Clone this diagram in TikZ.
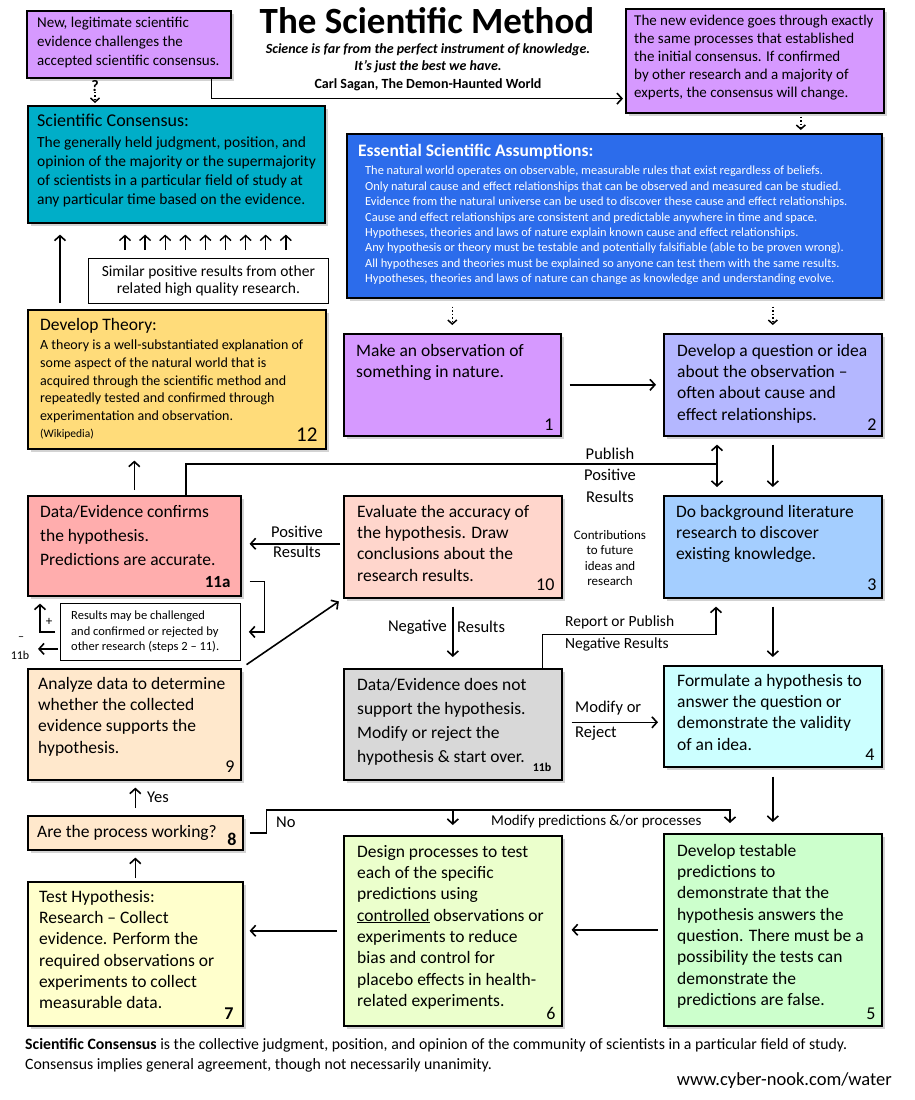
\documentclass[tikz,border=0pt]{standalone}
\usepackage{fontspec}
\setmainfont{Carlito}
\usetikzlibrary{positioning,arrows.meta,shadows}
\newcommand\setfs[2]{\fontsize{#1}{#2}\selectfont}
\definecolor{violetbox}{RGB}{214,153,255}
\definecolor{consteal}{RGB}{0,174,200}
\definecolor{assumeblue}{RGB}{44,108,235}
\definecolor{lavender}{RGB}{180,183,255}
\definecolor{litblue}{RGB}{164,206,255}
\definecolor{hypcyan}{RGB}{204,255,255}
\definecolor{predgreen}{RGB}{204,255,204}
\definecolor{designgreen}{RGB}{235,255,204}
\definecolor{testyellow}{RGB}{255,255,204}
\definecolor{peach}{RGB}{255,232,204}
\definecolor{evalpink}{RGB}{255,214,204}
\definecolor{confirmpink}{RGB}{255,173,173}
\definecolor{rejectgray}{RGB}{216,216,216}
\definecolor{theoryyellow}{RGB}{255,220,122}

\begin{document}
\begin{tikzpicture}[x=1pt,y=-1pt]
\tikzset{
  stepbox/.style={draw, line width=1.6pt, anchor=north west, inner sep=0pt,
    drop shadow={shadow xshift=3pt, shadow yshift=-3pt, opacity=.35}},
  notebox/.style={draw, line width=.8pt, anchor=north west, inner sep=0pt, fill=white},
  boxtext/.style={anchor=north west, align=left, inner sep=0pt, font=\setfs{17.5}{21.3}},
  stepnum/.style={anchor=south east, inner sep=0pt, font=\setfs{18}{20}},
  lbl/.style={inner sep=0pt, font=\setfs{16.5}{21.5}},
  link/.style={line width=1.6pt, -{Straight Barb[length=5pt,width=11pt]}},
  dotlink/.style={line width=1.5pt, dotted, -{Straight Barb[length=4pt,width=9pt]}},
}
\useasboundingbox (0,0) rectangle (915,1100);

% header
\node[anchor=base, inner sep=0pt, font=\setfs{37}{40}\bfseries] (title) at (427,33) {The Scientific Method};
\node[anchor=north, align=center, inner sep=0pt, font=\setfs{14}{17.5}\bfseries] (quote) at (428,43)
  {\textit{Science is far from the perfect instrument of knowledge.}\\
   \textit{It’s just the best we have.}\\
   Carl Sagan, The Demon-Haunted World};

\node[stepbox, fill=violetbox, minimum width=204pt, minimum height=67pt] (newev) at (26,10) {};
\node[boxtext, font=\setfs{15}{19}, below right=7pt and 11pt of newev.north west] (newevt)
  {New, legitimate scientific\\evidence challenges the\\accepted scientific consensus.};

\node[stepbox, fill=violetbox, minimum width=258pt, minimum height=104pt] (newproc) at (625,8) {};
\node[boxtext, font=\setfs{15}{18}, below right=7pt and 9pt of newproc.north west] (newproct)
  {The new evidence goes through exactly\\the same processes that established\\the initial consensus.  If confirmed\\by other research and a majority of\\experts, the consensus will change.};

% consensus and assumptions
\node[stepbox, fill=consteal, minimum width=297pt, minimum height=117pt] (consensus) at (27,105) {};
\node[boxtext, font=\setfs{18}{20}, below right=9pt and 10pt of consensus.north west] (conshead) {Scientific Consensus:};
\node[boxtext, font=\setfs{15.5}{19}, below right=32pt and 10pt of consensus.north west] (const)
  {The generally held judgment, position, and\\opinion of the majority or the supermajority\\of scientists in a particular field of study at\\any particular time  based on the evidence.};

\node[stepbox, fill=assumeblue, minimum width=535pt, minimum height=164pt] (assume) at (346,133) {};
\node[boxtext, text=white, font=\setfs{17.5}{20}\bfseries, below right=11pt and 12pt of assume.north west] (assumehead) {Essential Scientific Assumptions:};
\node[boxtext, text=white, font=\setfs{12.4}{15.4}, below right=33pt and 19pt of assume.north west] (assumet)
  {The natural world operates on observable, measurable rules that exist regardless of beliefs.\\
   Only natural cause and effect relationships that can be observed and measured can be studied.\\
   Evidence from the natural universe can be used to discover these cause and effect relationships.\\
   Cause and effect relationships are consistent and predictable anywhere in time and space.\\
   Hypotheses, theories and laws of nature explain known cause and effect relationships.\\
   Any hypothesis or theory must be testable and potentially falsifiable (able to be proven wrong).\\
   All hypotheses and theories must be explained so anyone can test them with the same results.\\
   Hypotheses, theories and laws of nature can change as knowledge and understanding evolve.};

\node[notebox, minimum width=240pt, minimum height=45pt] (similar) at (88,258) {};
\node[align=center, inner sep=0pt, font=\setfs{15.5}{17}] (similart) at (similar.center) {Similar positive results from other\\related high quality research.};

\node[stepbox, fill=theoryyellow, minimum width=298pt, minimum height=139pt] (theory) at (27,309) {};
\node[boxtext, font=\setfs{17.5}{20}, below right=9pt and 13pt of theory.north west] (theoryhead) {Develop Theory:};
\node[boxtext, font=\setfs{14}{17.6}, below right=31pt and 13pt of theory.north west] (theoryt)
  {A theory is a well-substantiated explanation of\\some aspect of the natural world that is\\acquired through the scientific method and\\repeatedly tested and confirmed through\\experimentation and observation.};
\node[boxtext, font=\setfs{11.5}{13}, below right=120pt and 13pt of theory.north west] (wiki) {(Wikipedia)};
\node[stepnum, font=\setfs{21}{22}, above left=8pt and 9pt of theory.south east] {12};

% steps
\node[stepbox, fill=violetbox, minimum width=217pt, minimum height=102pt] (obs) at (343,333) {};
\node[boxtext, below right=11pt and 13pt of obs.north west] {Make an observation of\\something in nature.};
\node[stepnum, above left=6pt and 8pt of obs.south east] {1};

\node[stepbox, fill=lavender, minimum width=218pt, minimum height=102pt] (quest) at (663,333) {};
\node[boxtext, below right=11pt and 14pt of quest.north west] {Develop a question or idea\\about the observation –\\often about cause and\\effect relationships.};
\node[stepnum, above left=6pt and 6pt of quest.south east] {2};

\node[stepbox, fill=litblue, minimum width=218pt, minimum height=102pt] (lit) at (663,495) {};
\node[boxtext, below right=10pt and 13pt of lit.north west] {Do background literature\\research to discover\\existing knowledge.};
\node[stepnum, above left=8pt and 6pt of lit.south east] {3};

\node[stepbox, fill=hypcyan, minimum width=218pt, minimum height=101pt] (hyp) at (663,665) {};
\node[boxtext, below right=9pt and 14pt of hyp.north west] {Formulate a hypothesis to\\answer the question or\\demonstrate the validity\\of an idea.};
\node[stepnum, above left=7pt and 8pt of hyp.south east] {4};

\node[stepbox, fill=predgreen, minimum width=218pt, minimum height=192pt] (pred) at (663,833) {};
\node[boxtext, below right=11pt and 14pt of pred.north west] {Develop testable\\predictions to\\demonstrate that the\\hypothesis answers the\\question.  There must be a\\possibility the tests can\\demonstrate the\\predictions are false.};
\node[stepnum, above left=7pt and 7pt of pred.south east] {5};

\node[stepbox, fill=designgreen, minimum width=218pt, minimum height=190pt] (design) at (343,835) {};
\node[boxtext, below right=10pt and 14pt of design.north west] {Design processes to test\\each of the specific\\predictions using\\\underline{controlled} observations or\\experiments to reduce\\bias and control for\\placebo effects in health-\\related experiments.};
\node[stepnum, above left=7pt and 7pt of design.south east] {6};

\node[stepbox, fill=testyellow, minimum width=215pt, minimum height=144pt] (test) at (27,881) {};
\node[boxtext, below right=9pt and 12pt of test.north west] {Test Hypothesis:\\Research – Collect\\evidence.  Perform the\\required observations or\\experiments to collect\\measurable data.};
\node[stepnum, font=\setfs{18}{20}\bfseries, above left=7pt and 10pt of test.south east] {7};

\node[stepbox, fill=peach, minimum width=215pt, minimum height=34pt] (work) at (27,815) {};
\node[boxtext, below right=10pt and 10pt of work.north west] {Are the process working?};
\node[stepnum, font=\setfs{18}{20}\bfseries, above left=5pt and 7pt of work.south east] {8};

\node[stepbox, fill=peach, minimum width=213pt, minimum height=111pt] (analyze) at (27,668) {};
\node[boxtext, below right=9pt and 11pt of analyze.north west] {Analyze data to determine\\whether the collected\\evidence supports the\\hypothesis.};
\node[stepnum, above left=8pt and 7pt of analyze.south east] {9};

\node[stepbox, fill=evalpink, minimum width=218pt, minimum height=102pt] (eval) at (343,495) {};
\node[boxtext, below right=10pt and 14pt of eval.north west] {Evaluate the accuracy of\\the hypothesis.  Draw\\conclusions about the\\research results.};
\node[stepnum, above left=8pt and 8pt of eval.south east] {10};

\node[stepbox, fill=confirmpink, minimum width=213pt, minimum height=100pt] (confirm) at (27,495) {};
\node[boxtext, font=\setfs{17.5}{24}, below right=10pt and 13pt of confirm.north west] {Data/Evidence confirms\\the hypothesis.\\Predictions are accurate.};
\node[stepnum, font=\setfs{17}{20}\bfseries, above left=9pt and 11pt of confirm.south east] {11a};

\node[stepbox, fill=rejectgray, minimum width=218pt, minimum height=111pt] (reject) at (343,668) {};
\node[boxtext, font=\setfs{17.5}{24}, below right=10pt and 14pt of reject.north west] {Data/Evidence does not\\support the hypothesis.\\Modify or reject the\\hypothesis \& start over.};
\node[stepnum, font=\setfs{12}{14}\bfseries, above left=9pt and 11pt of reject.south east] {11b};

\node[notebox, minimum width=180pt, minimum height=57pt] (results) at (60,603) {};
\node[boxtext, font=\setfs{12.5}{15.5}, below right=8pt and 11pt of results.north west] {Results may be challenged\\and confirmed or rejected by\\other research (steps 2 – 11).};

% connectors
\node[inner sep=0pt, font=\setfs{16}{18}\bfseries] (qmark) at (95,86) {?};
\draw[dotlink, shorten >=2pt] (qmark.south) -- (qmark.south |- consensus.north);
\draw[link, shorten >=2pt] ([xshift=-20pt]newev.south east) |- ([yshift=15pt]newproc.south west);
\draw[dotlink, shorten <=3pt, shorten >=3pt] ([xshift=46pt]newproc.south) -- ([xshift=46pt]newproc.south |- assume.north);
\draw[dotlink, shorten <=8pt, shorten >=8pt] (obs.north |- assume.south) -- (obs.north);
\draw[dotlink, shorten <=8pt, shorten >=8pt] (quest.north |- assume.south) -- (quest.north);

\foreach \i in {0,...,8}
  \draw[link, line width=1.4pt, shorten <=8pt, shorten >=11pt] ([xshift={37+20.1*\i}]similar.north west) -- ([xshift={37+20.1*\i}]similar.north west |- consensus.south);
\draw[link, shorten <=6pt, shorten >=11pt] ([xshift=33pt]theory.north west) -- ([xshift=33pt]theory.north west |- consensus.south);
\draw[link, shorten <=5pt, shorten >=11pt] (confirm.north) -- (confirm.north |- theory.south);

\draw[link, shorten <=8pt, shorten >=7pt] (obs.east) -- (quest.west);
\draw[link, shorten <=8pt, shorten >=8pt] (quest.south) -- (lit.north);
\draw[link, shorten <=8pt, shorten >=8pt] (lit.south) -- (hyp.north);
\draw[link, shorten <=9pt, shorten >=11pt] (hyp.south) -- (pred.north);
\draw[link, shorten <=5pt, shorten >=9pt] (pred.west) -- (pred.west -| design.east);
\draw[link, shorten <=6pt, shorten >=6pt] (design.west) -- (design.west -| test.east);
\draw[link, shorten <=3pt, shorten >=7pt] (test.north) -- (test.north |- work.south);
\draw[link, shorten <=7pt, shorten >=7pt] (work.north) -- (work.north |- analyze.south);
\draw[link, shorten <=6pt, shorten >=5pt] (analyze.north east) -- (eval.south west);
\draw[link, shorten <=3pt, shorten >=8pt] ([yshift=3pt]eval.west) -- ([yshift=3pt]eval.west -| confirm.east);
\draw[link, shorten <=8pt, shorten >=11pt] (eval.south) -- (reject.north);
\draw[link, shorten <=9pt, shorten >=5pt] ([yshift=2pt]reject.east) -- ([yshift=2pt]reject.east -| hyp.west);
\draw[link] ([xshift=-20pt]reject.north east) |- ([xshift=53pt,yshift=-36pt]lit.south west) -- ([xshift=53pt,yshift=-8pt]lit.south west);

\coordinate (pubj) at (717,464);
\draw[line width=1.6pt] ([xshift=159pt]confirm.north west) |- (pubj);
\draw[line width=1.6pt, {Straight Barb[length=5pt,width=11pt]}-{Straight Barb[length=5pt,width=11pt]}, shorten <=8pt, shorten >=8pt] (pubj |- quest.south) -- (pubj |- lit.north);

\draw[link] ([xshift=8pt,yshift=15pt]confirm.south east) -- ++(15,0) |- ([xshift=8pt]results.east);
\draw[link] ([xshift=-5pt]results.west) -| ([xshift=13pt,yshift=-7pt]confirm.south west);
\draw[link] ([xshift=-2pt,yshift=-17pt]results.west) -- ++(-20,0);

\draw[link] ([xshift=6pt]work.east) -- ++(17,0) |- ([xshift=67pt,yshift=23pt]pred.north west) -- ([xshift=67pt,yshift=10pt]pred.north west);
\draw[link] ([yshift=25pt]design.north) -- ([yshift=10pt]design.north);

% labels
\node[lbl, align=center] (pubpos) at (610,475) {Publish\\Positive\\Results};
\node[lbl, align=center, font=\setfs{13}{15.5}] (contrib) at (610,558) {Contributions\\to future\\ideas and\\research};
\node[lbl, align=center, font=\setfs{16.5}{20}] (posres) at (297,542) {Positive\\Results};
\node[lbl, anchor=east] (negl) at (447,627) {Negative};
\node[lbl, anchor=west] (negr) at (457,627) {Results};
\node[lbl, anchor=west, font=\setfs{15.5}{18}] (report) at (565,622) {Report or Publish};
\node[lbl, anchor=west, font=\setfs{15.5}{18}] (reportb) at (565,644) {Negative Results};
\node[lbl, anchor=west] (modify) at (575,708) {Modify or};
\node[lbl, anchor=west] (modifyb) at (575,733) {Reject};
\node[lbl, anchor=west] (yes) at (147,797) {Yes};
\node[lbl, anchor=west] (no) at (276,822) {No};
\node[lbl, anchor=west, font=\setfs{15}{16}] (modpred) at (491,821) {Modify  predictions  \&/or processes};
\node[lbl, font=\setfs{13}{14}] (plus) at (49,622) {+};
\node[lbl, font=\setfs{12}{14}] (minus) at (21,639) {–};
\node[lbl, font=\setfs{12}{14}] (minusb) at (20,655) {11b};

% footer
\node[anchor=north west, align=left, inner sep=0pt, font=\setfs{15.8}{20}] (foot) at (25,1038)
  {\textbf{Scientific Consensus} is the collective judgment, position, and opinion of the community of scientists in a particular field of study.\\
   Consensus implies general agreement, though not necessarily unanimity.};
\node[anchor=east, inner sep=0pt, font=\setfs{18.5}{20}] (url) at (892,1081) {www.cyber-nook.com/water};
\end{tikzpicture}
\end{document}
